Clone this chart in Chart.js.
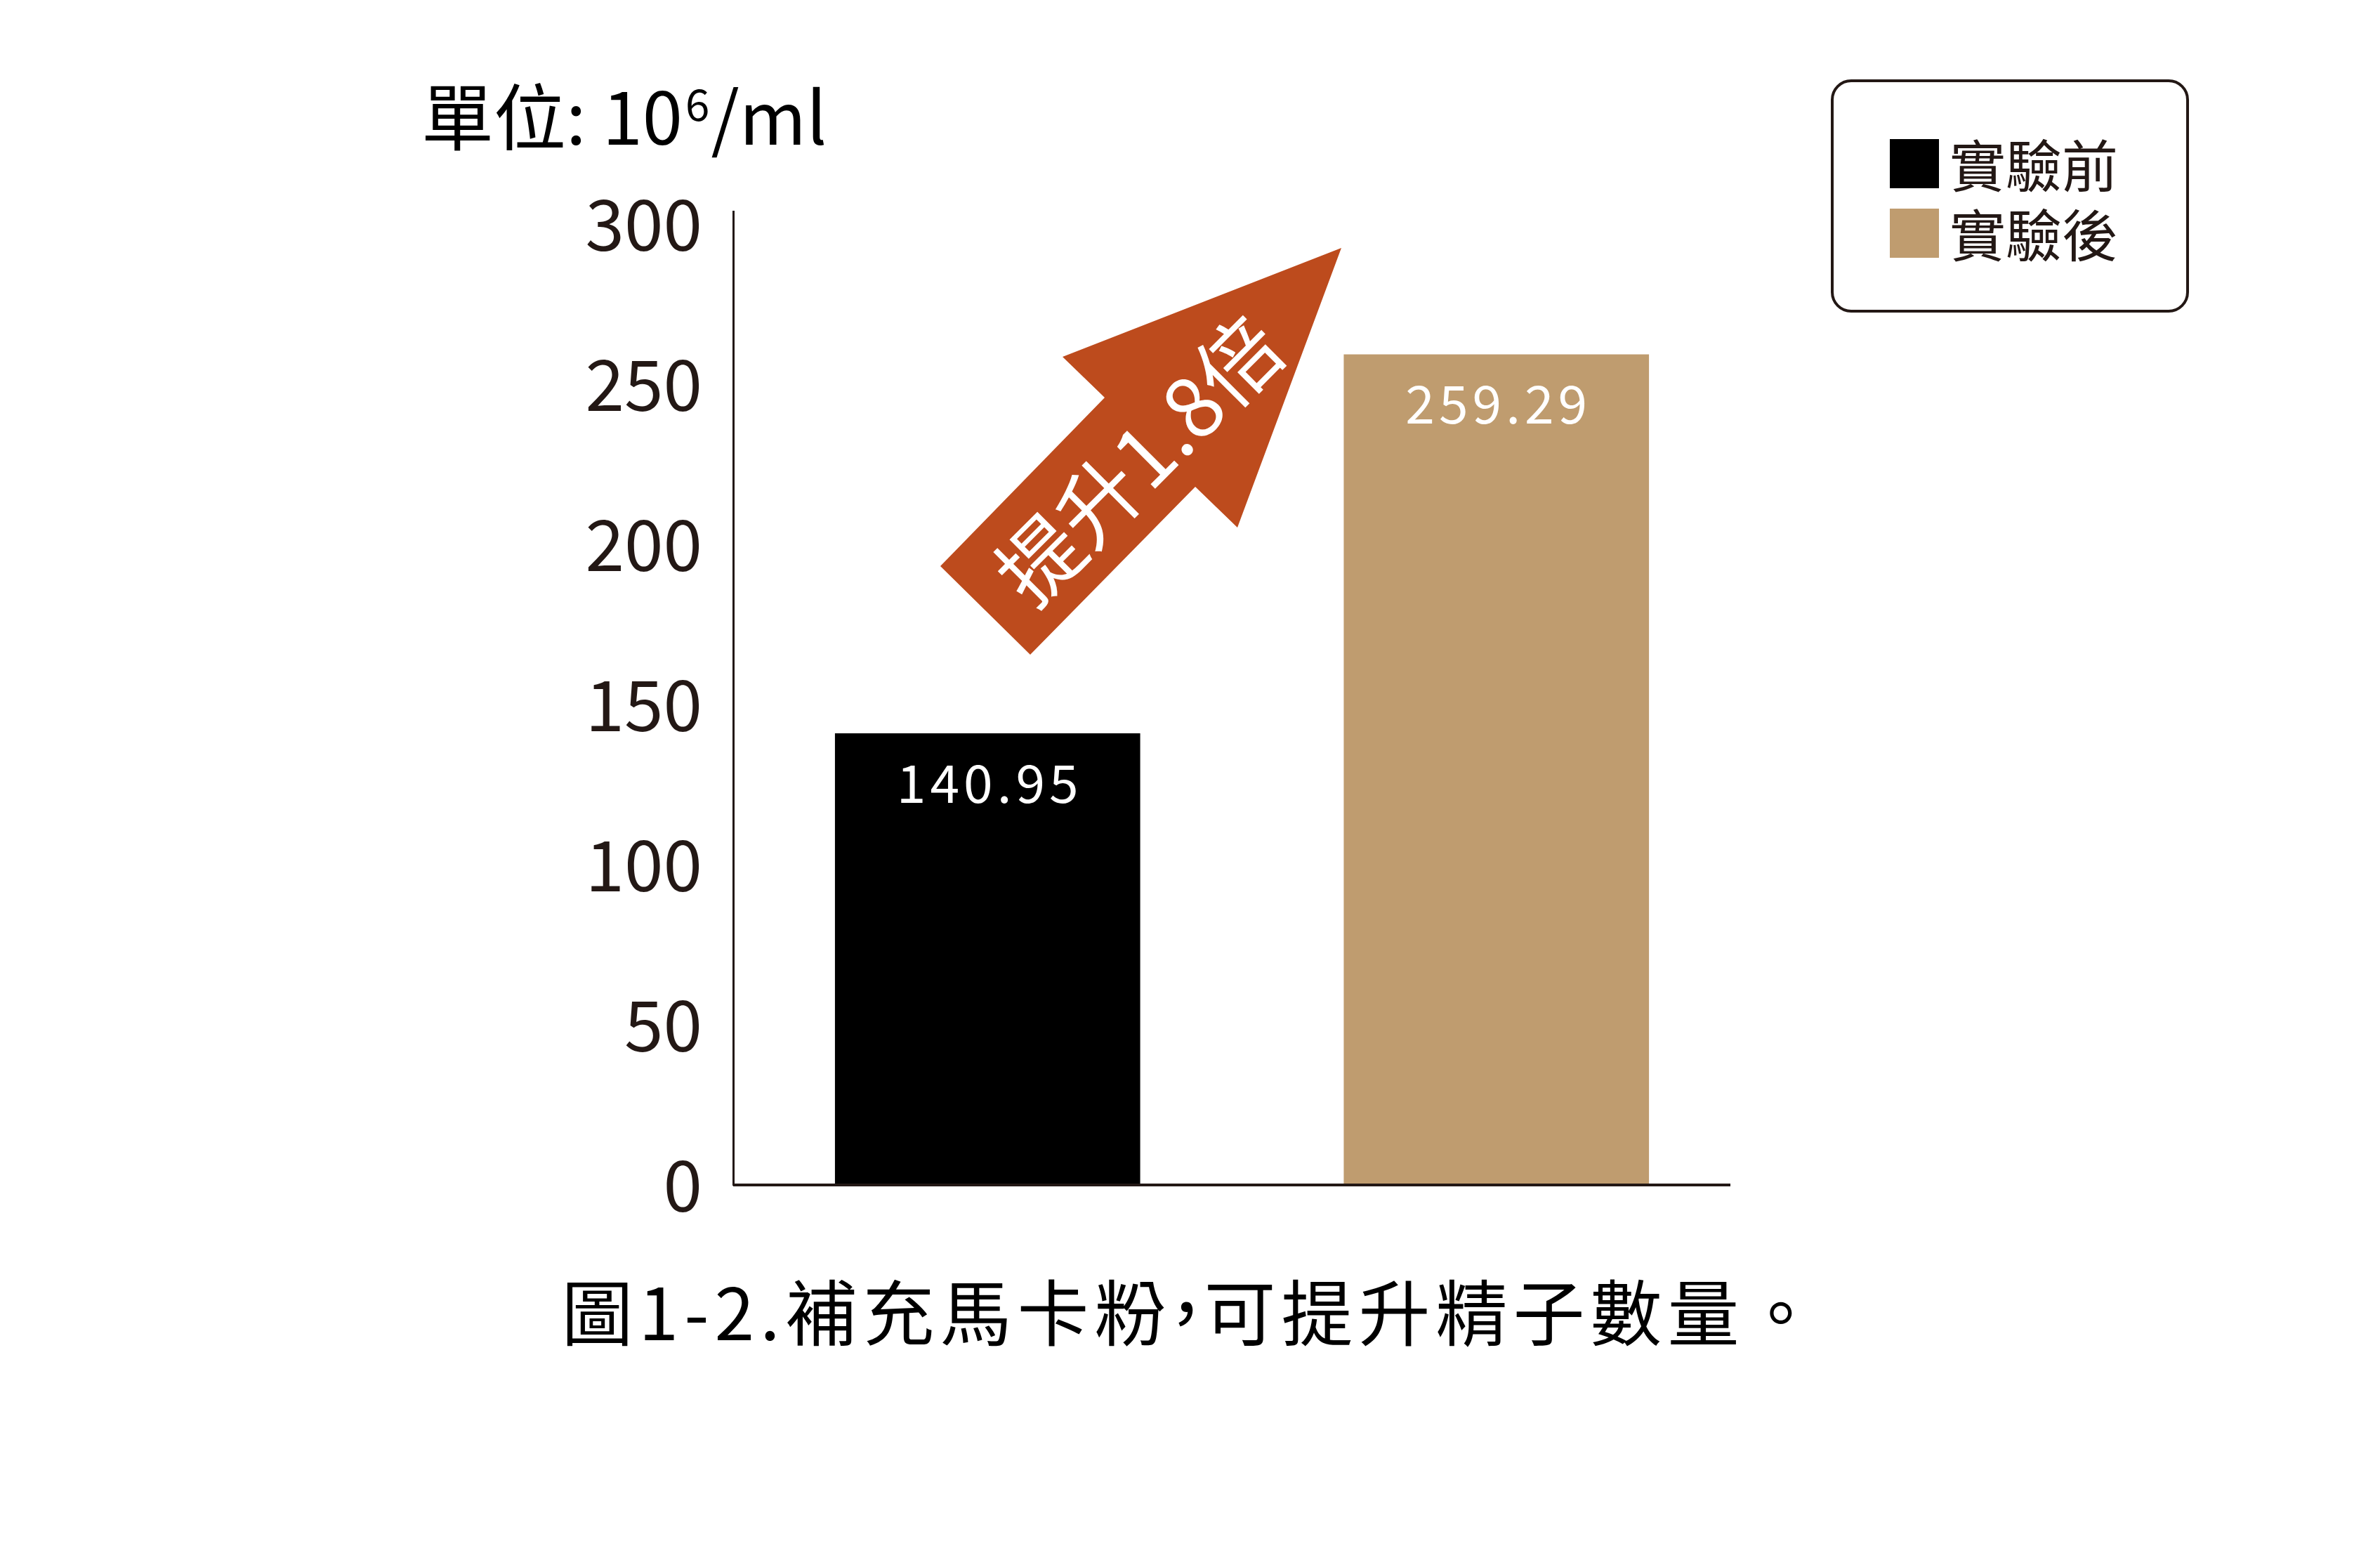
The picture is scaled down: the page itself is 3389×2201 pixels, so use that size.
<!DOCTYPE html>
<html>
<head>
<meta charset="utf-8">
<script src="https://cdn.jsdelivr.net/npm/chart.js@4"></script>
<style>
  html, body { margin: 0; padding: 0; background: #fff; }
  #wrap { width: 3389px; height: 2201px; }
</style>
</head>
<body>
<div id="wrap"><canvas id="spermChart" width="3389" height="2201"></canvas></div>
<script>
const categories = ["實驗前", "實驗後"];
const spermCount = [140.95, 259.29];
const yTicks = [0, 50, 100, 150, 200, 250, 300];
const barColors = ["#000000", "#bf9c6f"];
const unitText = ["單位: 10", "6", "/ml"];
const captionParts = ["圖1-2.補充馬卡粉", "，", "可提升精子數量。"];
const arrowText = "提升1.8倍";

const FONT = "'Noto Sans CJK TC', 'Noto Sans', sans-serif";
const INK = "#231815";

// valores em branco dentro das barras
const barValuePlugin = {
  id: "barValues",
  afterDatasetsDraw: (chart) => {
    const ctx = chart.ctx;
    const bars = chart.getDatasetMeta(0).data;
    ctx.save();
    ctx.font = `75px ${FONT}`;
    ctx.fillStyle = "#ffffff";
    ctx.textAlign = "center";
    ctx.textBaseline = "middle";
    ctx.letterSpacing = "6px";
    bars.forEach((bar, i) => {
      ctx.fillText(spermCount[i].toFixed(2), bar.x + 3, bar.y + 70);
    });
    ctx.restore();
  }
};

// linha do eixo x (um pouco mais curta que a área do gráfico)
const xAxisLinePlugin = {
  id: "xAxisLine",
  afterDatasetsDraw: (chart) => {
    const { ctx, chartArea } = chart;
    ctx.save();
    ctx.beginPath();
    ctx.moveTo(chartArea.left, chartArea.bottom);
    ctx.lineTo(chartArea.right - 29, chartArea.bottom);
    ctx.lineWidth = 4;
    ctx.strokeStyle = INK;
    ctx.stroke();
    ctx.restore();
  }
};

// seta laranja com texto
const arrowPlugin = {
  id: "arrow",
  afterDraw: (chart) => {
    const ctx = chart.ctx;
    const pts = [
      [1339, 806], [1573, 566], [1513, 508], [1910, 353],
      [1762, 751], [1702, 693], [1467, 932]
    ];
    ctx.save();
    ctx.beginPath();
    pts.forEach(([x, y], i) => (i ? ctx.lineTo(x, y) : ctx.moveTo(x, y)));
    ctx.closePath();
    ctx.fillStyle = "#bd4b1d";
    ctx.fill();

    ctx.translate(1622, 655);
    ctx.rotate(-45 * Math.PI / 180);
    ctx.font = `118px ${FONT}`;
    ctx.fillStyle = "#ffffff";
    ctx.textAlign = "center";
    ctx.textBaseline = "middle";
    ctx.fillText(arrowText, 0, 0);
    ctx.restore();
  }
};

// unidade, legenda e legenda inferior
const textPlugin = {
  id: "texts",
  afterDraw: (chart) => {
    const ctx = chart.ctx;
    ctx.save();

    // unidade
    ctx.fillStyle = "#000";
    ctx.textBaseline = "alphabetic";
    ctx.textAlign = "left";
    let x = 600;
    ctx.font = `103px ${FONT}`;
    ctx.fillText(unitText[0], x, 206);
    x += ctx.measureText(unitText[0]).width + 4;
    ctx.font = `62px ${FONT}`;
    ctx.fillText(unitText[1], x, 172);
    x += ctx.measureText(unitText[1]).width + 2;
    ctx.font = `103px ${FONT}`;
    ctx.fillText(unitText[2], x, 206);

    // caixa da legenda
    ctx.beginPath();
    ctx.roundRect(2609, 115, 506, 328, 27);
    ctx.lineWidth = 4;
    ctx.strokeStyle = INK;
    ctx.stroke();

    const labels = chart.data.labels;
    const colors = chart.data.datasets[0].backgroundColor;
    ctx.font = `80px ${FONT}`;
    ctx.textBaseline = "middle";
    labels.forEach((label, i) => {
      const y = 198 + i * 99;
      ctx.fillStyle = colors[i];
      ctx.fillRect(2691, y, 70, 70);
      ctx.fillStyle = INK;
      ctx.fillText(label, 2776, y + 38);
    });

    // legenda inferior (vírgula estreita)
    ctx.fillStyle = "#000";
    ctx.textBaseline = "alphabetic";
    ctx.font = `102px ${FONT}`;
    ctx.letterSpacing = "8px";
    const em = 102;
    const w0 = ctx.measureText(captionParts[0]).width;
    const w2 = ctx.measureText(captionParts[2]).width;
    const total = w0 + em * 0.45 + w2;
    let cx = 1697 - total / 2;
    ctx.fillText(captionParts[0], cx, 1908);
    cx += w0;
    ctx.fillText(captionParts[1], cx - em * 0.3, 1908);
    cx += em * 0.45;
    ctx.fillText(captionParts[2], cx, 1908);
    ctx.restore();
  }
};

const ctx = document.getElementById("spermChart").getContext("2d");

new Chart(ctx, {
  type: "bar",
  data: {
    labels: categories,
    datasets: [{
      data: spermCount,
      backgroundColor: barColors,
      borderWidth: 0,
      barThickness: 434
    }]
  },
  options: {
    responsive: false,
    animation: false,
    devicePixelRatio: 1,
    layout: { padding: { top: 301, right: 896, bottom: 0, left: 0 } },
    plugins: {
      legend: { display: false },
      tooltip: { enabled: false }
    },
    scales: {
      x: {
        grid: { display: false },
        border: { display: false },
        ticks: { display: false },
        afterFit: (scale) => { scale.height = 514; }
      },
      y: {
        min: 0,
        max: 304,
        grid: { display: false },
        border: { display: true, color: INK, width: 3 },
        ticks: {
          font: { family: FONT, size: 100 },
          color: INK,
          padding: 36
        },
        afterBuildTicks: (scale) => {
          scale.ticks = yTicks.map((v) => ({ value: v }));
        },
        afterFit: (scale) => { scale.width = 1044; }
      }
    }
  },
  plugins: [barValuePlugin, xAxisLinePlugin, arrowPlugin, textPlugin]
});
</script>
</body>
</html>
